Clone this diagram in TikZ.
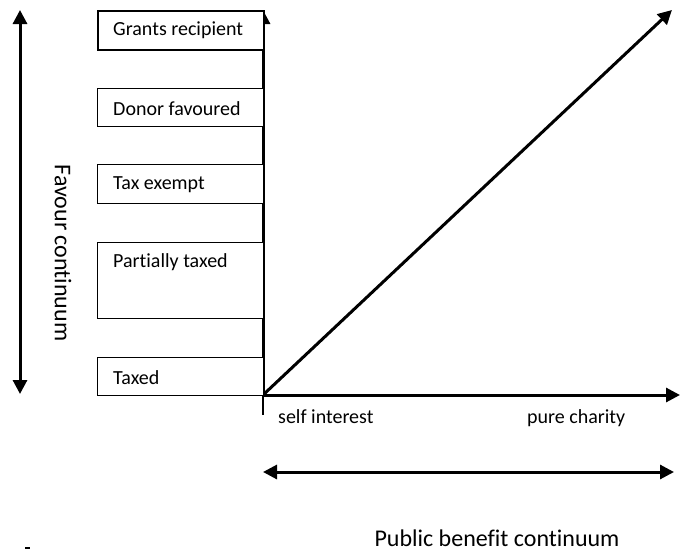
\documentclass[tikz,border=0pt]{standalone}
\usepackage{fontspec}
\setmainfont{Carlito}[Ligatures={NoCommon,NoContextual,NoRare}]
\usetikzlibrary{arrows.meta}
\begin{document}
\begin{tikzpicture}[x=1pt,y=-1pt,
  axis/.style={line width=3pt,-{Triangle[width=14pt,length=14pt]}},
  twoway/.style={line width=3pt,{Triangle[width=14pt,length=14pt]}-{Triangle[width=14pt,length=14pt]}},
  tier/.style={draw,fill=white,line width=1.2pt,rectangle,inner sep=0pt,
    minimum width=166pt,anchor=north west},
  tierlabel/.style={anchor=west,inner sep=0pt,font=\fontsize{20}{24}\selectfont},
  small/.style={inner sep=0pt,font=\fontsize{20}{24}\selectfont},
  big/.style={inner sep=0pt,font=\fontsize{24}{28}\selectfont}]
\useasboundingbox (0,0) rectangle (681,549);

% axes and the diagonal
\coordinate (O) at (263,395);
\coordinate (ytip) at (263,10);
\coordinate (xtip) at (680,395);
\coordinate (dtip) at (672,10);
\coordinate (tick) at (263,415);
\draw[axis] (O) -- (ytip);
\draw[axis] (O) -- (xtip);
\draw[axis] (O) -- (dtip);
\draw[line width=1.2pt] (O) -- (tick);

% tiers of favour
\node[tier,line width=2pt,minimum height=39pt] (grants) at (97,10) {};
\node[tier,minimum height=38pt] (donor) at (97,88) {};
\node[tier,minimum height=39pt] (exempt) at (97,164) {};
\node[tier,minimum height=76pt] (partial) at (97,242) {};
\node[tier,minimum height=38pt] (taxed) at (97,357) {};

\node[tierlabel] (grantsT) at ([xshift=16pt]grants.west) {Grants recipient};
\node[tierlabel] (donorT) at ([xshift=16pt,yshift=-1pt]donor.west) {Donor favoured};
\node[tierlabel] (exemptT) at ([xshift=16pt,yshift=-1pt]exempt.west) {Tax exempt};
\node[tierlabel] (partialT) at ([xshift=16pt,yshift=-20pt]partial.north west) {Partially taxed};
\node[tierlabel] (taxedT) at ([xshift=16pt,yshift=-1pt]taxed.west) {Taxed};

% favour continuum
\coordinate (ftop) at (20,10);
\coordinate (fbot) at (20,394);
\draw[twoway] (ftop) -- (fbot);
\node[big,rotate=-90] (favour) at (63,253) {Favour continuum};

% public benefit continuum
\node[small,anchor=base west] (self) at (278,423) {self interest};
\node[small,anchor=base west] (pure) at (527,423) {pure charity};
\coordinate (pleft) at (263,472);
\coordinate (pright) at (674,472);
\draw[twoway] (pleft) -- (pright);
\node[big,anchor=base] (public) at (497,546) {Public benefit continuum};

\fill (25,547) rectangle (30,549);
\end{tikzpicture}
\end{document}
